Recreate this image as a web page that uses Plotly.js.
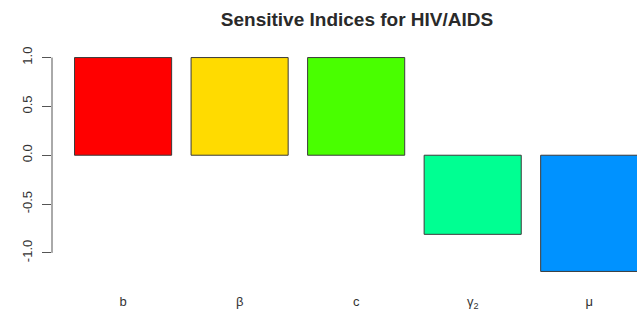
<!DOCTYPE html>
<html>
<head>
<meta charset="utf-8">
<script src="https://cdn.plot.ly/plotly-3.0.1.min.js"></script>
<style>html,body{margin:0;padding:0;background:#fff;}#chart{width:637px;height:316px;}</style>
</head>
<body>
<div id="chart"></div>
<script>
var categories = ["b", "β", "c", "γ<sub>2</sub>", "μ"];
var values = [1.0, 1.0, 1.0, -0.81, -1.19];
var colors = ["#FF0000", "#FFDB00", "#49FF00", "#00FF92", "#0092FF"];
var yTickVals = [-1.0, -0.5, 0.0, 0.5, 1.0];
var yTickText = ["-1.0", "-0.5", "0.0", "0.5", "1.0"];

var trace = {
  type: "bar",
  x: categories,
  y: values,
  marker: {color: colors, line: {color: "#3a3a3a", width: 1}},
  hoverinfo: "none"
};

var layout = {
  width: 637, height: 316,
  margin: {l: 52, r: 0, t: 49, b: 36, pad: 0},
  paper_bgcolor: "#fff", plot_bgcolor: "#fff",
  showlegend: false,
  bargap: 0.1667,
  title: {
    text: "<b>Sensitive Indices for HIV/AIDS</b>",
    font: {family: "Liberation Sans, Arial, sans-serif", size: 19, color: "#2a2a2a"},
    x: 357/637, xref: "container", xanchor: "center",
    y: 1 - 19/316, yref: "container", yanchor: "middle"
  },
  xaxis: {
    type: "category",
    range: [-0.61, 4.41],
    showgrid: false, zeroline: false, showline: false,
    ticks: "", ticklen: 0,
    ticklabelstandoff: 12,
    tickfont: {family: "Liberation Sans, Arial, sans-serif", size: 13, color: "#333"}
  },
  yaxis: {
    range: [-1.2776, 1.0876],
    tickvals: yTickVals, ticktext: yTickText,
    tickangle: -90,
    showgrid: false, zeroline: false, showline: false,
    ticks: "outside", ticklen: 9, tickcolor: "#555", tickwidth: 1,
    ticklabelstandoff: 5,
    tickfont: {family: "Liberation Sans, Arial, sans-serif", size: 13, color: "#333"}
  },
  shapes: [{
    type: "line", xref: "paper", yref: "y",
    x0: 0, x1: 0, y0: yTickVals[0], y1: yTickVals[yTickVals.length - 1],
    line: {color: "#555", width: 1}
  }]
};

Plotly.newPlot("chart", [trace], layout, {displayModeBar: false, staticPlot: true});
</script>
</body>
</html>
